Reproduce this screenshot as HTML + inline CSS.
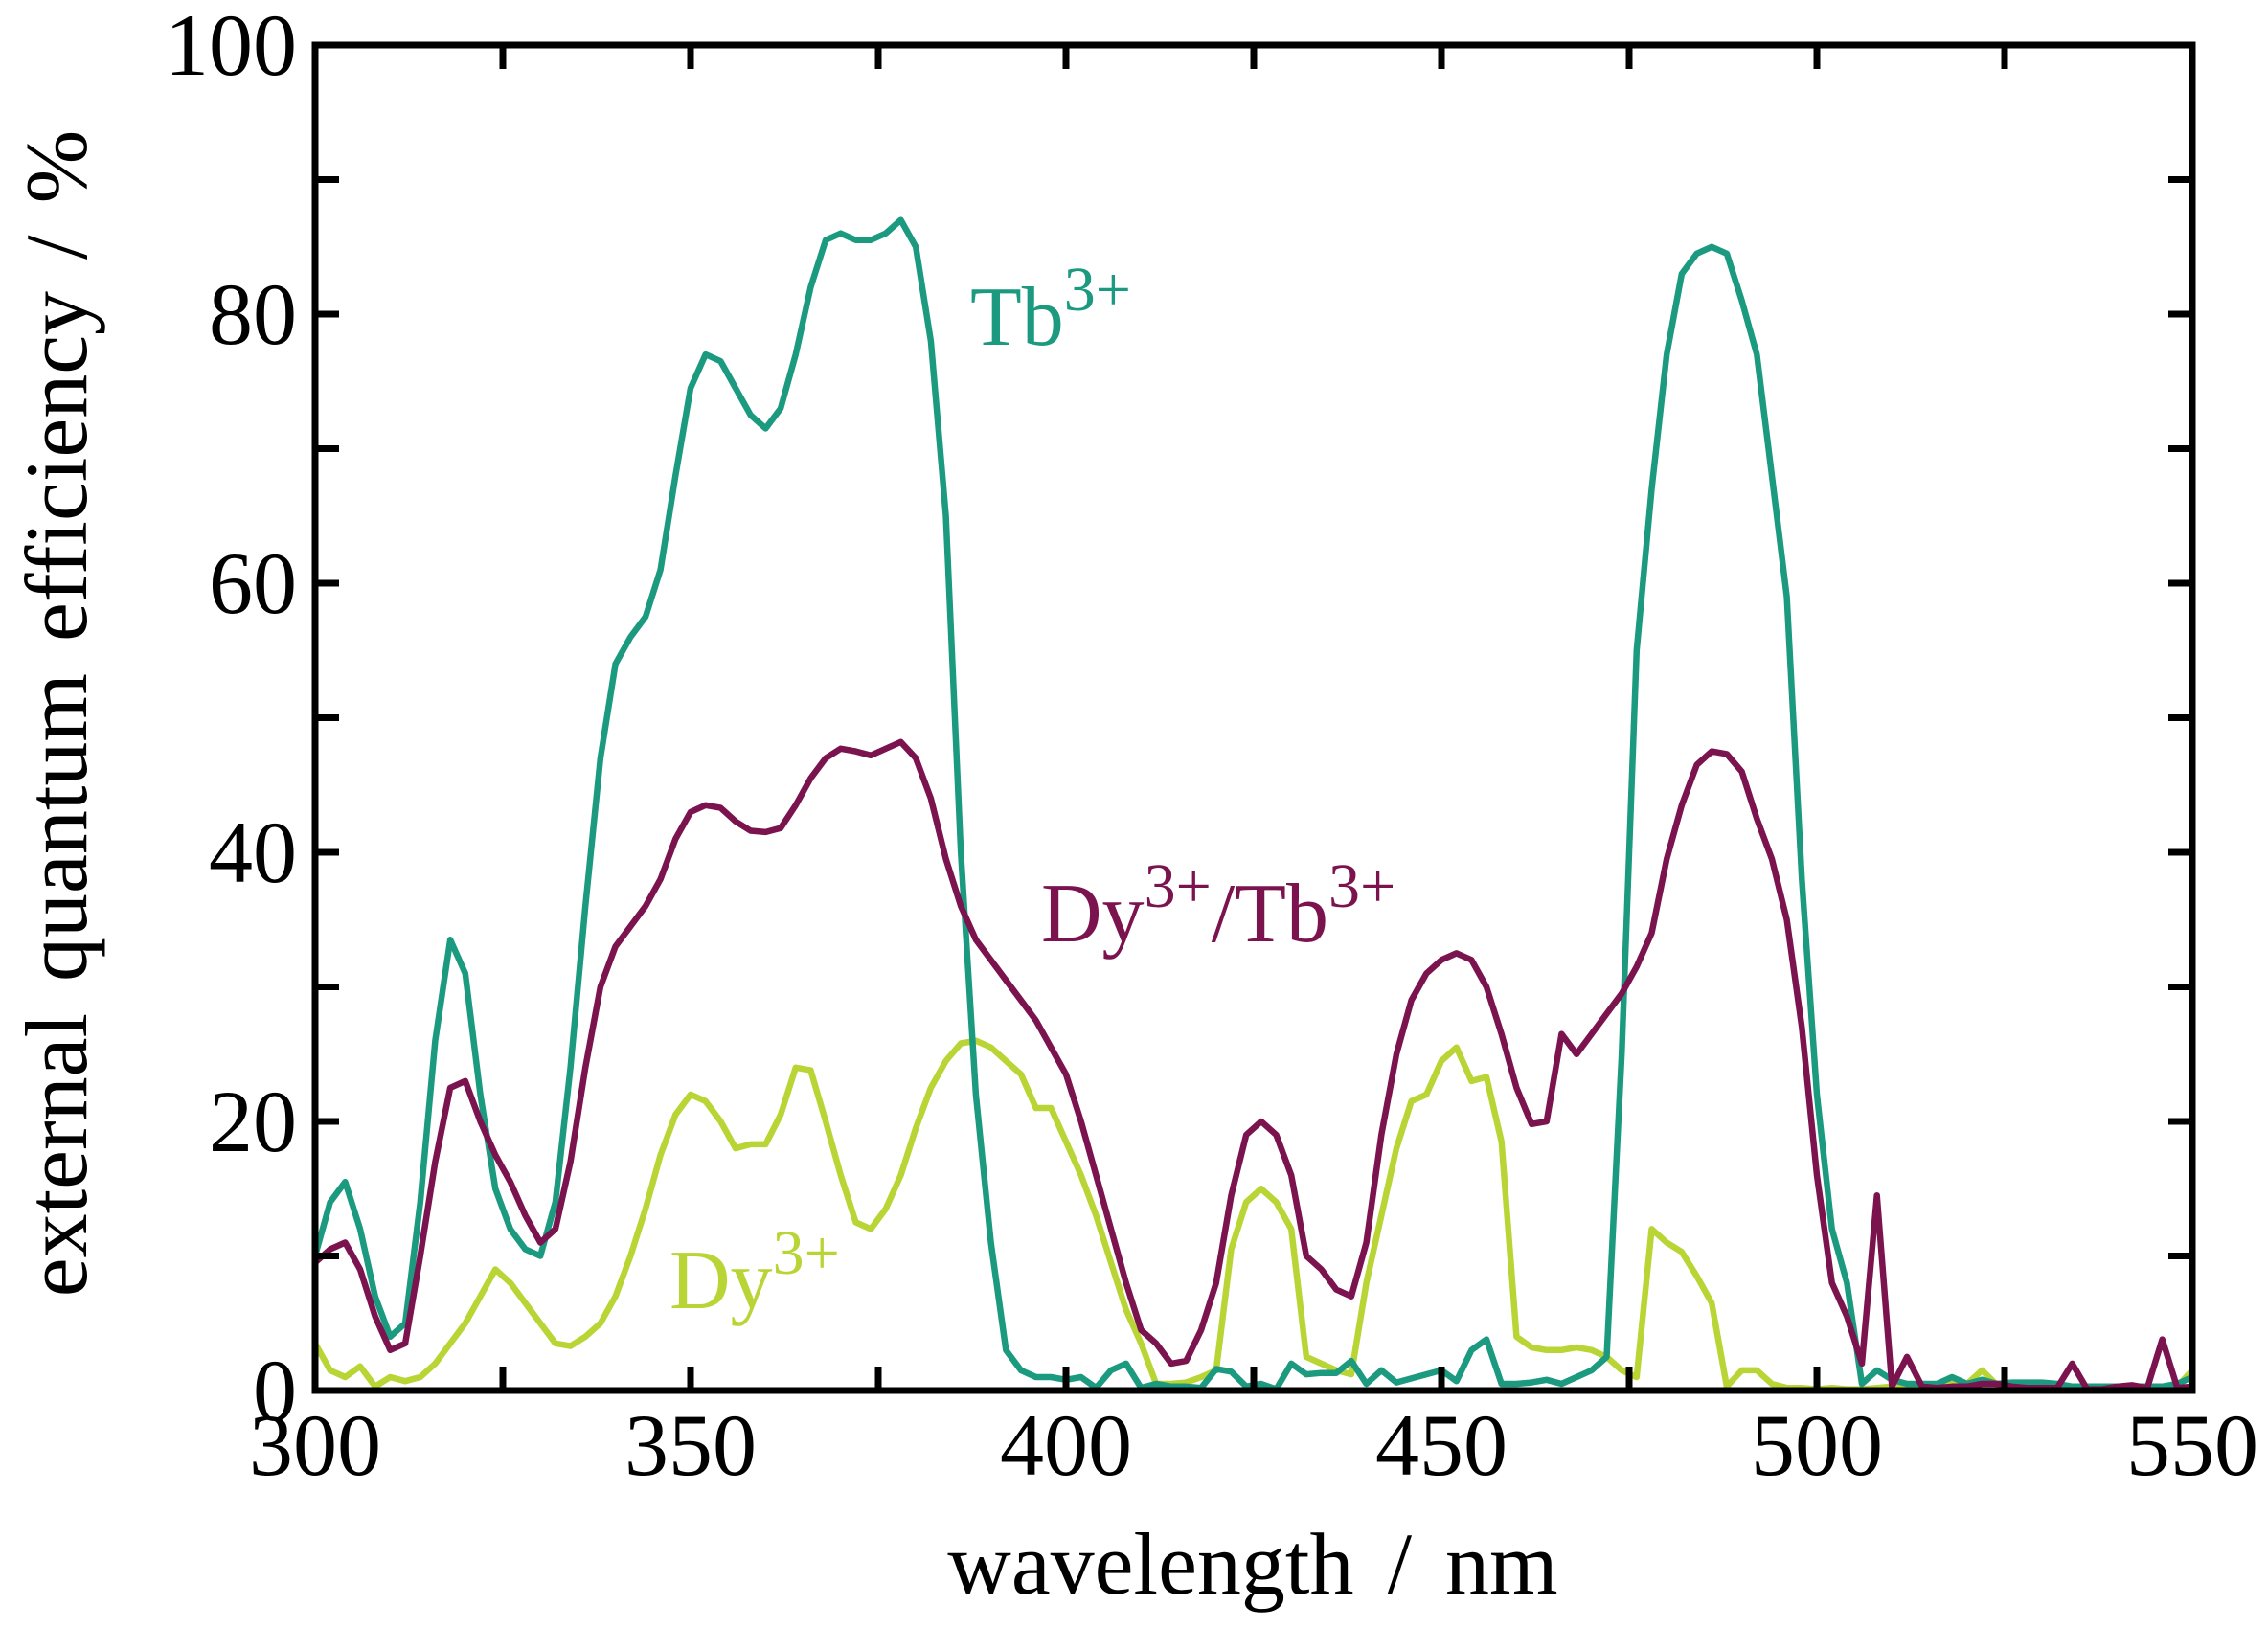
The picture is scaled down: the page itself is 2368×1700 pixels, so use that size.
<!DOCTYPE html>
<html><head><meta charset="utf-8">
<style>
html,body{margin:0;padding:0;background:#fff;}
svg{display:block;font-family:"Liberation Serif",serif;}
</style></head>
<body>
<svg id="chart" width="2368" height="1700" viewBox="0 0 2368 1700" xmlns="http://www.w3.org/2000/svg">
<g id="lines"></g>
<g id="axes"></g>
<text x="1308" y="1664" font-size="92" text-anchor="middle" word-spacing="12">wavelength / nm</text>
<text x="0" y="0" font-size="92" text-anchor="middle" word-spacing="10" transform="translate(90,745) rotate(-90)">external quantum efficiency / %</text>
<text x="1013" y="360" font-size="88" fill="#1b9a80">Tb<tspan dy="-36" font-size="66">3+</tspan></text>
<text x="1087" y="983" font-size="88" fill="#7b134f">Dy<tspan dy="-36" font-size="66">3+</tspan><tspan dy="36">/Tb</tspan><tspan dy="-36" font-size="66">3+</tspan></text>
<text x="699" y="1366" font-size="88" fill="#b9d535">Dy<tspan dy="-36" font-size="66">3+</tspan></text>
</svg>
<script>
const wavelengths = [];
for (let w = 300; w <= 550; w += 2) wavelengths.push(w);
const tbValues = [10,14,15.5,12,7,4,5,14,26,33.5,31,22,15,12,10.5,10,14,24,36,47,54,56,57.5,61,68,74.5,77,76.5,74.5,72.5,71.5,73,77,82,85.5,86,85.5,85.5,86,87,85,78,65,40,22,11,3,1.5,1,1,0.8,1,0.2,1.5,2,0.2,0.5,0.3,0.3,0.2,1.6,1.4,0.3,0.5,0.1,2,1.2,1.3,1.3,2.2,0.5,1.5,0.6,0.9,1.2,1.5,0.7,3,3.8,0.5,0.5,0.6,0.8,0.5,1,1.5,2.5,25,55,67,77,83,84.5,85,84.5,81,77,68,59,38,22,12,8,0.5,1.5,0.8,0.5,0.5,0.5,1,0.5,0.8,0.5,0.6,0.6,0.6,0.5,0.3,0.3,0.3,0.3,0.3,0.3,0.3,0.5,1,0.5];
const dyTbValues = [9.5,10.5,11,9,5.5,3,3.5,10,17,22.5,23,20,17.5,15.5,13,11,12,17,24,30,33,34.5,36,38,41,43,43.5,43.3,42.3,41.6,41.5,41.8,43.5,45.5,47,47.7,47.5,47.2,47.7,48.2,47,44,39.5,36,33.5,32,30.5,29,27.5,25.5,23.5,20,16,12,8,4.5,3.5,2,2.2,4.5,8,14.5,19,20,19,16,10,9,7.5,7,11,19,25,29,31,32,32.5,32,30,26.5,22.5,19.8,20,26.5,25,26.5,28,29.5,31.5,34,39.5,43.5,46.5,47.5,47.3,46,42.5,39.5,35,27,16,8,5.5,2,14.5,0.3,2.5,0.3,0.2,0.3,0.3,0.5,0.5,0.3,0.2,0.2,0.2,2,0.1,0.1,0.3,0.4,0.2,3.8,0.2,0.3];
const dyValues = [3.5,1.5,1,1.8,0.3,1,0.7,1,2,3.5,5,7,9,8,6.5,5,3.5,3.3,4,5,7,10,13.5,17.5,20.5,22,21.5,20,18,18.3,18.3,20.5,24,23.8,20,16,12.5,12,13.5,16,19.5,22.5,24.5,25.8,26,25.5,24.5,23.5,21,21,18.5,16,13,9.5,6,3.5,0.5,0.5,0.6,1,1.5,10.5,14,15,14,12,2.5,2,1.5,1.2,8,13,18,21.5,22,24.5,25.5,23,23.3,18.5,4,3.2,3,3,3.2,3,2.5,1.5,1,12,11,10.3,8.5,6.5,0.3,1.5,1.5,0.5,0.2,0.2,0.1,0.2,0.1,0.1,0.2,0.3,0.3,0.3,0.2,0.5,0.5,1.5,0.4,0.3,0.3,0.3,0.3,0.3,0.1,0.1,0.2,0.2,0.2,0.3,0.3,1.5];
const xTicks = [300,350,400,450,500,550];
const yTicks = [0,20,40,60,80,100];

const X0=329,X1=2289,Y0=1452,Y1=47;
const xs = v => X0 + (v-300)/(550-300)*(X1-X0);
const ys = v => Y0 - v/100*(Y0-Y1);
const NS="http://www.w3.org/2000/svg";
const lines=document.getElementById('lines');
const axes=document.getElementById('axes');

function series(vals,color,name){
  const p=document.createElementNS(NS,'polyline');
  p.setAttribute('points',vals.map((v,i)=>xs(wavelengths[i]).toFixed(1)+','+ys(v).toFixed(1)).join(' '));
  p.setAttribute('fill','none');p.setAttribute('stroke',color);p.setAttribute('stroke-width','6.5');
  p.setAttribute('stroke-linejoin','round');
  
  
  lines.appendChild(p);
}
series(dyValues,'#b9d535','series-dy');
series(tbValues,'#1b9a80','series-tb');
series(dyTbValues,'#7b134f','series-dy-tb');

function ln(x1,y1,x2,y2,name){
  const l=document.createElementNS(NS,'line');
  l.setAttribute('x1',x1);l.setAttribute('y1',y1);l.setAttribute('x2',x2);l.setAttribute('y2',y2);
  l.setAttribute('stroke','#000');l.setAttribute('stroke-width','7');
  
  
  axes.appendChild(l);
}
for(let w=300;w<=550;w+=25){ln(xs(w),Y0,xs(w),Y0-25,'x-tick');ln(xs(w),Y1,xs(w),Y1+25,'x-tick-top');}
for(let v=0;v<=100;v+=10){ln(X0,ys(v),X0+25,ys(v),'y-tick');ln(X1,ys(v),X1-25,ys(v),'y-tick-right');}
const r=document.createElementNS(NS,'rect');
r.setAttribute('x',X0);r.setAttribute('y',Y1);r.setAttribute('width',X1-X0);r.setAttribute('height',Y0-Y1);
r.setAttribute('fill','none');r.setAttribute('stroke','#000');r.setAttribute('stroke-width','7');


axes.appendChild(r);
xTicks.forEach(t=>{
  const e=document.createElementNS(NS,'text');
  e.setAttribute('x',xs(t));e.setAttribute('y',1540);e.setAttribute('font-size','92');e.setAttribute('text-anchor','middle');
  e.textContent=t;
  
  
  axes.appendChild(e);
});
yTicks.forEach(t=>{
  const e=document.createElementNS(NS,'text');
  e.setAttribute('x',310);e.setAttribute('y',ys(t)+31);e.setAttribute('font-size','92');e.setAttribute('text-anchor','end');
  e.textContent=t;
  
  
  axes.appendChild(e);
});
</script>
</body></html>
